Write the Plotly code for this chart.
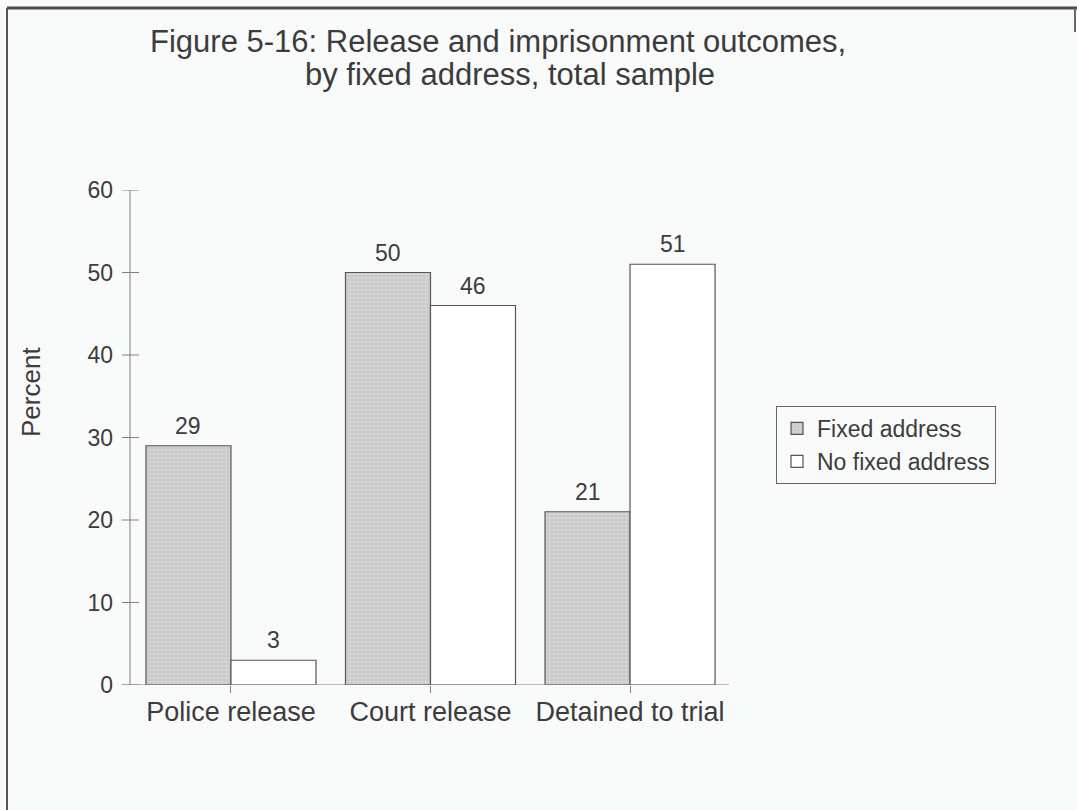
import plotly.graph_objects as go

categories = ["Police release", "Court release", "Detained to trial"]
fixed_address = [29, 50, 21]
no_fixed_address = [3, 46, 51]
series_names = ["Fixed address", "No fixed address"]
y_ticks = [0, 10, 20, 30, 40, 50, 60]
title_lines = ["Figure 5-16: Release and imprisonment outcomes,",
               "by fixed address, total sample"]

FONT = "Liberation Sans, Arial, sans-serif"
TXT = "#3c3c3c"
AX = "#808080"

# plot area in page pixels (left/right, bottom/top)
PL, PR, PB, PT = 130, 729, 685, 190
def px(x):
    return (x - PL) / (PR - PL)
def py(y):
    return (PB - y) / (PB - PT)

fig = go.Figure()
fig.add_trace(go.Bar(
    x=categories, y=fixed_address, name=series_names[0],
    marker=dict(color="#cdcdcd", line=dict(color="#555555", width=1.2),
                pattern=dict(shape=".", fgcolor="#b4b4b4", bgcolor="#d3d3d3",
                             size=4, solidity=0.3)),
))
fig.add_trace(go.Bar(
    x=categories, y=no_fixed_address, name=series_names[1],
    marker=dict(color="#ffffff", line=dict(color="#555555", width=1.2)),
))

# value labels above bars
bar_px = 85
for vals, shift in ((fixed_address, -bar_px / 2), (no_fixed_address, bar_px / 2)):
    for c, v in zip(categories, vals):
        fig.add_annotation(x=c, y=v, text=str(v), showarrow=False,
                           xshift=shift, yshift=5, yanchor="bottom", xanchor="center",
                           font=dict(family=FONT, size=23, color=TXT))

# y axis line and crossing tick marks
fig.add_shape(type="line", xref="paper", yref="y", x0=0, x1=0, y0=0, y1=max(y_ticks),
              line=dict(color=AX, width=1))
for t in y_ticks:
    fig.add_shape(type="line", xref="paper", xsizemode="pixel", xanchor=0,
                  x0=-8, x1=9, yref="y", y0=t, y1=t, line=dict(color=AX, width=1))

# baseline extended slightly left of y axis
fig.add_shape(type="line", xref="paper", xsizemode="pixel", xanchor=0,
              x0=-8, x1=PR - PL, yref="y", y0=0, y1=0, line=dict(color=AX, width=1))

# outer frame (top and left edges of the scanned page box)
fig.add_shape(type="line", xref="paper", yref="paper",
              x0=px(7), x1=px(1077), y0=py(8), y1=py(8),
              line=dict(color="#4a4a4a", width=3))
fig.add_shape(type="line", xref="paper", yref="paper",
              x0=px(7), x1=px(7), y0=py(8), y1=py(830),
              line=dict(color="#555555", width=2))
fig.add_shape(type="line", xref="paper", yref="paper",
              x0=px(1075), x1=px(1075), y0=py(8), y1=py(32),
              line=dict(color="#666666", width=2))

# title lines
fig.add_annotation(xref="paper", yref="paper", x=px(498), y=py(41), text=title_lines[0],
                   showarrow=False, xanchor="center", yanchor="middle",
                   font=dict(family=FONT, size=31, color=TXT))
fig.add_annotation(xref="paper", yref="paper", x=px(510), y=py(74), text=title_lines[1],
                   showarrow=False, xanchor="center", yanchor="middle",
                   font=dict(family=FONT, size=31, color=TXT))

# y axis title
fig.add_annotation(xref="paper", yref="paper", x=px(31), y=py(392),
                   text="Percent", textangle=-90, showarrow=False,
                   xanchor="center", yanchor="middle",
                   font=dict(family=FONT, size=26, color=TXT))

fig.update_layout(
    width=1077, height=810,
    margin=dict(l=PL, r=1077 - PR, t=PT, b=810 - PB),
    paper_bgcolor="#f9fafa", plot_bgcolor="rgba(0,0,0,0)",
    barmode="group", bargap=0.148, bargroupgap=0,
    showlegend=True,
    xaxis=dict(range=[-0.506, 2.496], showgrid=False, zeroline=False,
               showline=False, ticks="outside", ticklen=7, tickcolor=AX,
               ticklabelstandoff=-4,
               tickfont=dict(family=FONT, size=27, color=TXT)),
    yaxis=dict(range=[0, 60], tickvals=y_ticks, showgrid=False, zeroline=False,
               showline=False, ticks="", ticklabelstandoff=16,
               tickfont=dict(family=FONT, size=23, color=TXT)),
    legend=dict(x=px(776), y=py(406), xanchor="left", yanchor="top",
                bordercolor="#666666", borderwidth=1, bgcolor="rgba(0,0,0,0)",
                font=dict(family=FONT, size=23, color=TXT), itemwidth=30,
                tracegroupgap=0),
    font=dict(family=FONT, color=TXT),
)

fig.write_html("out.html", config={"displayModeBar": False},
               post_script="document.body.style.margin='0px';")
